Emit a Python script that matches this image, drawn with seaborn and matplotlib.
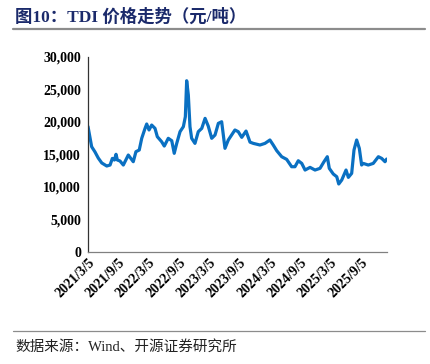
#!/usr/bin/env python3
"""
TDI price trend chart (yuan/ton), 2021-03 to 2026-02.
"""

import matplotlib
matplotlib.use("Agg")
import matplotlib.pyplot as plt
import matplotlib.ticker as mticker
import pandas as pd
import seaborn as sns

dates = [
    "2021-03-05", "2021-03-27", "2021-04-16", "2021-05-06", "2021-05-27",
    "2021-06-26", "2021-07-16", "2021-07-30", "2021-08-11", "2021-08-21",
    "2021-08-29", "2021-09-14", "2021-10-04", "2021-11-03", "2021-12-03",
    "2021-12-19", "2022-01-08", "2022-01-23", "2022-02-12", "2022-02-22",
    "2022-03-08", "2022-03-24", "2022-04-13", "2022-04-27", "2022-05-23",
    "2022-06-08", "2022-07-02", "2022-07-23", "2022-08-07", "2022-08-22",
    "2022-09-11", "2022-10-01", "2022-10-13", "2022-10-21", "2022-10-31",
    "2022-11-10", "2022-11-20", "2022-12-10", "2022-12-30", "2023-01-20",
    "2023-02-09", "2023-02-28", "2023-03-21", "2023-04-10", "2023-04-30",
    "2023-05-20", "2023-06-09", "2023-06-29", "2023-07-19", "2023-08-08",
    "2023-08-28", "2023-09-18", "2023-10-14", "2023-11-07", "2023-11-27",
    "2024-01-06", "2024-02-05", "2024-03-06", "2024-03-26", "2024-04-16",
    "2024-05-16", "2024-06-15", "2024-07-15", "2024-08-04", "2024-08-24",
    "2024-09-14", "2024-10-04", "2024-11-03", "2024-12-03", "2025-01-02",
    "2025-01-26", "2025-02-15", "2025-02-27", "2025-03-23", "2025-04-13",
    "2025-04-25", "2025-05-13", "2025-06-08", "2025-06-22", "2025-07-12",
    "2025-07-26", "2025-08-11", "2025-08-27", "2025-09-10", "2025-09-20",
    "2025-10-20", "2025-11-19", "2025-12-20", "2026-01-09", "2026-01-29",
    "2026-02-08",
]
prices = [
    19300, 16200, 15400, 14450, 13700,
    13230, 13380, 14400, 14150, 15030,
    14150, 14000, 13380, 14920, 13890,
    15430, 15690, 17490, 19020, 19690,
    18770, 19530, 19020, 17740, 16970,
    16300, 17490, 17120, 15180, 16710,
    18510, 19280, 20810, 26350, 24150,
    19280, 17490, 16710, 18510, 19020,
    20560, 19380, 17490, 18000, 19790,
    20040, 15950, 17230, 18000, 18770,
    18510, 17640, 18610, 16900, 16710,
    16460, 16710, 17230, 16460, 15590,
    14660, 14250, 13120, 13120, 14040,
    13630, 12610, 13020, 12610, 12870,
    13890, 14660, 12870, 12000, 11580,
    10460, 11070, 12610, 11480, 12100,
    15690, 17230, 15950, 13380, 13630,
    13380, 13630, 14660, 14400, 13890,
    14300,
]
tick_dates = [
    "2021-03-05", "2021-09-05", "2022-03-05", "2022-09-05", "2023-03-05",
    "2023-09-05", "2024-03-05", "2024-09-05", "2025-03-05", "2025-09-05",
]
tick_labels = [
    "2021/3/5", "2021/9/5", "2022/3/5", "2022/9/5", "2023/3/5",
    "2023/9/5", "2024/3/5", "2024/9/5", "2025/3/5", "2025/9/5",
]
y_ticks = [0, 5000, 10000, 15000, 20000, 25000, 30000]

df = pd.DataFrame({"date": pd.to_datetime(dates), "price": prices})

sns.set_theme(style="white")
plt.rcParams["font.family"] = ["Liberation Serif", "Noto Sans CJK SC"]

fig = plt.figure(figsize=(4.31, 3.64), dpi=100)
ax = fig.add_axes([88 / 431, 1 - 252 / 364, (387 - 88) / 431, (252 - 57) / 364])

sns.lineplot(data=df, x="date", y="price", ax=ax, color="#0A70C2", linewidth=2.3)

ax.set_xlim(pd.Timestamp("2021-03-05"), pd.Timestamp("2026-02-10"))
ax.set_ylim(0, 30000)
ax.set_xticks(pd.to_datetime(tick_dates))
ax.set_xticklabels(tick_labels, rotation=45, ha="right", rotation_mode="anchor",
                   fontsize=10, fontweight="bold")
ax.set_yticks(y_ticks)
ax.yaxis.set_major_formatter(mticker.StrMethodFormatter("{x:,.0f}"))
for lbl in ax.get_yticklabels():
    lbl.set_fontsize(10)
    lbl.set_fontweight("bold")
ax.set_xlabel("")
ax.set_ylabel("")
ax.tick_params(axis="both", direction="in", length=4, width=0.8, color="#808080",
               pad=5, labelcolor="black")
ax.tick_params(axis="x", pad=3)

for side in ("top", "right"):
    ax.spines[side].set_visible(False)
ax.spines["left"].set_color("#333333")
ax.spines["bottom"].set_color("#808080")
for side in ("left", "bottom"):
    ax.spines[side].set_linewidth(0.9)

fig.text(15 / 431, 1 - 17 / 364, "图10：TDI 价格走势（元/吨）", fontsize=12.5,
         fontweight="bold", color="#1B2A6B", va="center", ha="left",
         family=["Liberation Serif", "Noto Sans CJK SC"])
fig.add_artist(plt.Line2D([13 / 431, 425 / 431], [1 - 29 / 364, 1 - 29 / 364],
                          color="#8C8C8C", linewidth=1.6))
fig.add_artist(plt.Line2D([13 / 431, 425 / 431], [1 - 331 / 364, 1 - 331 / 364],
                          color="#8C8C8C", linewidth=0.9))
fig.text(15 / 431, 1 - 347 / 364, "数据来源：Wind、开源证券研究所", fontsize=10.5,
         color="#222222", va="center", ha="left",
         family=["Liberation Serif", "Noto Sans CJK SC"])

fig.savefig("out.png", dpi=100)
